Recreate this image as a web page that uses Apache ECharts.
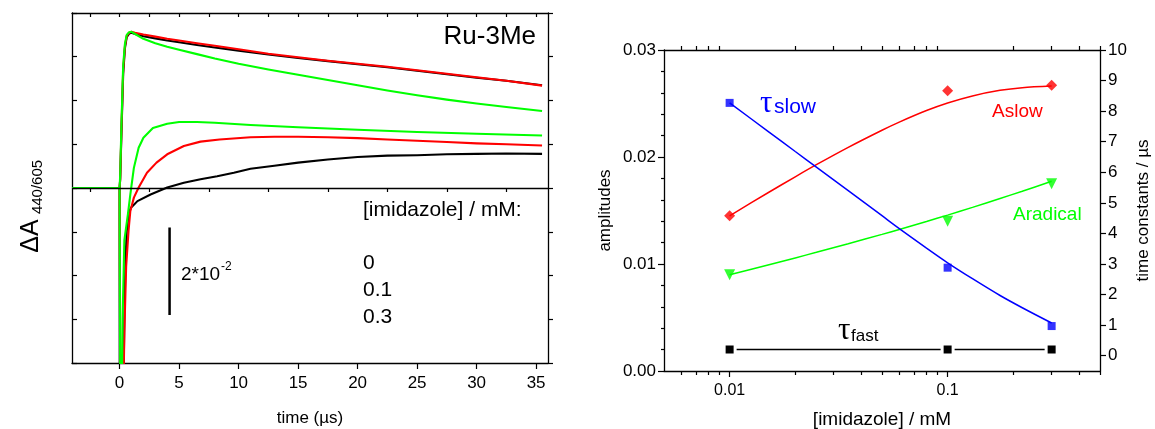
<!DOCTYPE html>
<html><head><meta charset="utf-8">
<script src="https://cdn.jsdelivr.net/npm/echarts@6/dist/echarts.min.js"></script>
<style>html,body{margin:0;padding:0;background:#fff}#c{width:1155px;height:429px}</style>
</head><body><div id="c"></div>
<script>
// ---------- Left panel: transient traces (time in µs, ΔA) ----------
const timeLabels = [0, 5, 10, 15, 20, 25, 30, 35];
const timeMinor = [-2.5, 2.5, 7.5, 12.5, 17.5, 22.5, 27.5, 32.5];
const timeTop = [-2.5, 0, 2.5, 5, 7.5, 10, 12.5, 15, 17.5, 20, 22.5, 25, 27.5, 30, 32.5, 35];

const tUpper =     [-4, -2, 0, 0.05, 0.15, 0.3, 0.45, 0.6, 0.8, 1.0, 1.3, 2, 3, 4, 5, 6.5, 8, 10, 12.5, 15, 17.5, 20, 22.5, 25, 27.5, 30, 32.5, 35.5];
const upperBlack = [0, 0, 0, 0.002, 0.012, 0.026, 0.032, 0.0345, 0.0353, 0.0355, 0.0352, 0.0347, 0.0342, 0.0337, 0.0333, 0.0327, 0.0321, 0.0314, 0.0305, 0.0297, 0.0290, 0.0283, 0.0276, 0.0268, 0.0260, 0.0252, 0.0245, 0.0235];
const upperRed =   [0, 0, 0, 0.002, 0.013, 0.027, 0.0325, 0.0348, 0.0355, 0.0357, 0.0355, 0.0351, 0.0346, 0.0341, 0.0337, 0.0331, 0.0325, 0.0317, 0.0307, 0.0299, 0.0291, 0.0284, 0.0277, 0.0269, 0.0261, 0.0253, 0.0245, 0.0234];
const upperGreen = [0, 0, 0, 0.003, 0.014, 0.028, 0.033, 0.035, 0.0356, 0.0357, 0.0352, 0.0341, 0.0331, 0.0323, 0.0316, 0.0306, 0.0296, 0.0284, 0.0271, 0.0259, 0.0247, 0.0235, 0.0223, 0.0212, 0.0202, 0.0193, 0.0185, 0.0176];

const tLowerBlack = [-4, -2, 0, 0.01, 0.3, 0.4, 0.5, 0.6, 0.75, 0.95, 1.5, 2.6, 4, 5.4, 6.8, 8.2, 9.6, 11, 13, 15, 17.5, 20, 22.5, 25, 27.5, 30, 32.5, 35.5];
const lowerBlack =  [0, 0, 0, -0.06, -0.05, -0.03, -0.016, -0.01, -0.006, -0.0045, -0.003, -0.0015, 0.0001, 0.0012, 0.0020, 0.0027, 0.0035, 0.0044, 0.0051, 0.0058, 0.0065, 0.0071, 0.0074, 0.0075, 0.0077, 0.0078, 0.0079, 0.0078];
const tLowerRed = [-4, -2, 0, 0.04, 0.1, 0.3, 0.4, 0.55, 0.75, 0.9, 1.2, 1.6, 2.3, 3.1, 4, 5.4, 6.8, 8.4, 11, 13, 15, 17.5, 20, 22.5, 25, 27.5, 30, 32.5, 35.5];
const lowerRed =  [0, 0, 0, -0.03, -0.06, -0.05, -0.033, -0.018, -0.0098, -0.0053, -0.0022, 0.0001, 0.0035, 0.0058, 0.0077, 0.0096, 0.0106, 0.0111, 0.0116, 0.0117, 0.0117, 0.0116, 0.0114, 0.0111, 0.0108, 0.0105, 0.0102, 0.0100, 0.0097];
const tLowerGreen = [-4, -2, 0, 0.03, 0.08, 0.18, 0.25, 0.4, 0.7, 0.9, 1.2, 1.6, 2.0, 2.8, 4, 5, 6.5, 8, 11, 15, 20, 25, 30, 35.5];
const lowerGreen =  [0, 0, 0, -0.03, -0.06, -0.05, -0.03, -0.012, -0.006, -0.0015, 0.0046, 0.0092, 0.0115, 0.0137, 0.0147, 0.0151, 0.0151, 0.0149, 0.0144, 0.0139, 0.0133, 0.0128, 0.0124, 0.0120];

const scaleBarT = [4.2, 4.2];
const scaleBarY = [-0.009, -0.029];
const concLegend = ['0', '0.1', '0.3'];

// ---------- Right panel: amplitudes and time constants vs [imidazole] ----------
const logMajor = [0.01, 0.1];
const logMinor = [0.006, 0.007, 0.008, 0.009, 0.02, 0.03, 0.04, 0.05, 0.06, 0.07, 0.08, 0.09, 0.2, 0.3, 0.4, 0.5];
const rightTicks = [0, 1, 2, 3, 4, 5, 6, 7, 8, 9, 10];

const conc = [0.01, 0.1, 0.3];
const aSlow = [0.0145, 0.0262, 0.0267];
const aRadical = [0.0090, 0.0140, 0.0175];
const tauSlow = [8.27, 2.88, 0.97];
const tauFast = [0.2, 0.2, 0.2];

const fitConc =     [0.01, 0.015, 0.02, 0.025, 0.035, 0.05, 0.06, 0.08, 0.1, 0.13, 0.174, 0.22, 0.3];
const aSlowFit =    [0.0145, 0.01666, 0.01815, 0.01928, 0.0209, 0.0225, 0.02326, 0.02434, 0.02505, 0.02571, 0.02623, 0.02648, 0.02663];
const aRadicalFit = [0.0090, 0.00991, 0.01057, 0.01109, 0.01189, 0.01277, 0.01323, 0.01398, 0.01457, 0.01529, 0.01612, 0.0168, 0.01773];
const tauSlowFit =  [8.27, 7.34, 6.68, 6.17, 5.40, 4.58, 4.16, 3.52, 3.04, 2.52, 1.97, 1.57, 1.07];

const FONT = '"Liberation Sans", Arial, sans-serif';
const pairs = (xs, ys) => xs.map((x, i) => [x, ys[i]]);
const BLK = '#000000', RED = '#ff0000', GRN = '#00ff00', BLU = '#0000ff';

const chart = echarts.init(document.getElementById('c'), null, {renderer: 'canvas'});

function trace(xs, ys, color) {
  return {type: 'line', xAxisIndex: 0, yAxisIndex: 0, data: pairs(xs, ys), showSymbol: false,
    symbol: 'none', lineStyle: {color: color, width: 2.1, join: 'round'}, itemStyle: {color: color},
    clip: true, silent: true, smooth: false};
}
function fit(xs, ys, color, yIdx) {
  return {type: 'line', xAxisIndex: 3, yAxisIndex: yIdx, data: pairs(xs, ys), showSymbol: false, symbol: 'none',
    smooth: 0.3, lineStyle: {color: color, width: 1.5}, silent: true};
}

const axLine = {show: true, onZero: false, lineStyle: {color: '#000', width: 1.3}};
const noLabel = {show: false};

const option = {
  animation: false,
  backgroundColor: '#fff',
  textStyle: {fontFamily: FONT, color: '#000'},
  grid: [
    {left: 72, top: 13, width: 476, height: 350, outerBoundsMode: 'none'},
    {left: 664, top: 50, width: 436, height: 321, outerBoundsMode: 'none'}
  ],
  xAxis: [
    {gridIndex: 0, type: 'value', min: -4, max: 36, position: 'bottom', axisLine: axLine,
      axisTick: {show: true, length: 6, lineStyle: {color: '#000', width: 1.2}, customValues: timeLabels},
      axisLabel: {customValues: timeLabels, fontSize: 17, color: '#000', fontFamily: FONT, margin: 12},
      splitLine: {show: false},
      name: 'time (µs)', nameLocation: 'middle', nameGap: 47,
      nameTextStyle: {fontSize: 17, color: '#000', fontFamily: FONT}},
    {gridIndex: 0, type: 'value', min: -4, max: 36, position: 'bottom', axisLine: {show: false},
      axisTick: {show: true, length: 4, lineStyle: {color: '#000', width: 1.2}, customValues: timeMinor},
      axisLabel: noLabel, splitLine: {show: false}},
    {gridIndex: 0, type: 'value', min: -4, max: 36, position: 'top', axisLine: axLine,
      axisTick: {show: true, inside: true, length: 4, lineStyle: {color: '#000', width: 1.2}, customValues: timeTop},
      axisLabel: noLabel, splitLine: {show: false}},
    {gridIndex: 1, type: 'log', logBase: 10, min: 0.005, max: 0.5, position: 'bottom', axisLine: axLine,
      axisTick: {show: true, length: 6, lineStyle: {color: '#000', width: 1.2}, customValues: logMajor},
      axisLabel: {customValues: logMajor, fontSize: 16, color: '#000', fontFamily: FONT, margin: 12,
        formatter: v => String(Number(v.toPrecision(3)))},
      splitLine: {show: false}, minorTick: {show: false},
      name: '[imidazole] / mM', nameLocation: 'middle', nameGap: 39,
      nameTextStyle: {fontSize: 19, color: '#000', fontFamily: FONT}},
    {gridIndex: 1, type: 'log', logBase: 10, min: 0.005, max: 0.5, position: 'bottom', axisLine: {show: false},
      axisTick: {show: true, length: 4, lineStyle: {color: '#000', width: 1.2}, customValues: logMinor},
      axisLabel: noLabel, splitLine: {show: false}},
    {gridIndex: 1, type: 'log', logBase: 10, min: 0.005, max: 0.5, position: 'top', axisLine: axLine,
      axisTick: {show: true, length: 4, lineStyle: {color: '#000', width: 1.2}, customValues: logMinor},
      axisLabel: noLabel, splitLine: {show: false}},
    {gridIndex: 1, type: 'log', logBase: 10, min: 0.005, max: 0.5, position: 'top', axisLine: {show: false},
      axisTick: {show: true, length: 6, lineStyle: {color: '#000', width: 1.2}, customValues: logMajor},
      axisLabel: noLabel, splitLine: {show: false}}
  ],
  yAxis: [
    {gridIndex: 0, type: 'value', min: -0.04, max: 0.04, interval: 0.01, position: 'left', axisLine: axLine,
      axisTick: {show: true, inside: true, length: 5, lineStyle: {color: '#000', width: 1.2}},
      axisLabel: noLabel, splitLine: {show: false}},
    {gridIndex: 0, type: 'value', min: -0.04, max: 0.04, interval: 0.01, position: 'right', axisLine: axLine,
      axisTick: {show: true, length: 5, lineStyle: {color: '#000', width: 1.2}},
      axisLabel: noLabel, splitLine: {show: false}},
    {gridIndex: 1, type: 'value', min: 0, max: 0.03, interval: 0.01, position: 'left', axisLine: axLine,
      axisTick: {show: true, length: 6, lineStyle: {color: '#000', width: 1.2}},
      minorTick: {show: true, splitNumber: 5, length: 3, lineStyle: {color: '#000', width: 1.2}},
      axisLabel: {fontSize: 17, color: '#000', fontFamily: FONT, margin: 8, formatter: v => v.toFixed(2)},
      splitLine: {show: false},
      name: 'amplitudes', nameLocation: 'middle', nameGap: 50, nameRotate: 90,
      nameTextStyle: {fontSize: 17, color: '#000', fontFamily: FONT}},
    {gridIndex: 1, type: 'value', min: -0.5, max: 10, position: 'right', axisLine: axLine,
      axisTick: {show: true, length: 6, lineStyle: {color: '#000', width: 1.2}, customValues: rightTicks},
      axisLabel: {customValues: rightTicks, fontSize: 17, color: '#000', fontFamily: FONT, margin: 8},
      splitLine: {show: false},
      name: 'time constants / µs', nameLocation: 'middle', nameGap: 35, nameRotate: 90,
      nameTextStyle: {fontSize: 17, color: '#000', fontFamily: FONT}}
  ],
  series: [
    Object.assign(trace(tLowerBlack, lowerBlack, BLK), {
      markLine: {silent: true, symbol: 'none', label: {show: false},
        lineStyle: {color: '#000', width: 1.3, type: 'solid'}, data: [{yAxis: 0}]}}),
    trace(tLowerRed, lowerRed, RED),
    trace(tLowerGreen, lowerGreen, GRN),
    trace(tUpper, upperBlack, BLK),
    trace(tUpper, upperRed, RED),
    trace(tUpper, upperGreen, GRN),
    {type: 'line', xAxisIndex: 0, yAxisIndex: 0, data: pairs(scaleBarT, scaleBarY), showSymbol: false,
      symbol: 'none', lineStyle: {color: '#000', width: 2.5}, silent: true},

    fit(fitConc, aSlowFit, RED, 2),
    {type: 'scatter', xAxisIndex: 3, yAxisIndex: 2, data: pairs(conc, aSlow), symbol: 'diamond', symbolSize: 11,
      itemStyle: {color: RED}, silent: true},
    fit(fitConc, aRadicalFit, GRN, 2),
    {type: 'scatter', xAxisIndex: 3, yAxisIndex: 2, data: pairs(conc, aRadical), symbol: 'triangle', symbolRotate: 180,
      symbolSize: 11, itemStyle: {color: GRN}, silent: true},
    fit(fitConc, tauSlowFit, BLU, 3),
    {type: 'scatter', xAxisIndex: 3, yAxisIndex: 3, data: pairs(conc, tauSlow), symbol: 'rect', symbolSize: 8,
      itemStyle: {color: BLU}, silent: true},
    {type: 'line', xAxisIndex: 3, yAxisIndex: 3, data: pairs(conc, tauFast), symbol: 'rect', symbolSize: 11,
      showSymbol: true, lineStyle: {color: BLK, width: 1.5},
      itemStyle: {color: BLK, borderColor: '#fff', borderWidth: 3}, silent: true}
  ],
  graphic: [
    {type: 'text', x: 536, y: 37, style: {text: 'Ru-3Me', font: '26px ' + FONT, fill: '#000', textAlign: 'right', textVerticalAlign: 'middle'}},
    {type: 'text', x: 363, y: 210, style: {text: '[imidazole] / mM:', font: '21px ' + FONT, fill: '#000', textAlign: 'left', textVerticalAlign: 'middle'}},
    {type: 'text', x: 363, y: 263, style: {text: concLegend[0], font: '21px ' + FONT, fill: '#000', textAlign: 'left', textVerticalAlign: 'middle'}},
    {type: 'text', x: 363, y: 290, style: {text: concLegend[1], font: '21px ' + FONT, fill: '#000', textAlign: 'left', textVerticalAlign: 'middle'}},
    {type: 'text', x: 363, y: 317, style: {text: concLegend[2], font: '21px ' + FONT, fill: '#000', textAlign: 'left', textVerticalAlign: 'middle'}},
    {type: 'text', x: 181, y: 275, style: {text: '2*10', font: '19px ' + FONT, fill: '#000', textAlign: 'left', textVerticalAlign: 'middle'}},
    {type: 'text', x: 221, y: 267, style: {text: '-2', font: '12px ' + FONT, fill: '#000', textAlign: 'left', textVerticalAlign: 'middle'}},
    {type: 'text', x: 31, y: 236, rotation: Math.PI / 2, style: {text: 'ΔA', font: '25px ' + FONT, fill: '#000', textAlign: 'center', textVerticalAlign: 'middle'}},
    {type: 'text', x: 38, y: 187, rotation: Math.PI / 2, style: {text: '440/605', font: '15px ' + FONT, fill: '#000', textAlign: 'center', textVerticalAlign: 'middle'}},
    {type: 'text', x: 760, y: 104, style: {text: 'τ', font: '31px "Liberation Serif", serif', fill: BLU, textAlign: 'left', textVerticalAlign: 'middle'}},
    {type: 'text', x: 774, y: 107, style: {text: 'slow', font: '21px ' + FONT, fill: BLU, textAlign: 'left', textVerticalAlign: 'middle'}},
    {type: 'text', x: 992, y: 112, style: {text: 'Aslow', font: '19px ' + FONT, fill: RED, textAlign: 'left', textVerticalAlign: 'middle'}},
    {type: 'text', x: 1013, y: 215, style: {text: 'Aradical', font: '19px ' + FONT, fill: GRN, textAlign: 'left', textVerticalAlign: 'middle'}},
    {type: 'text', x: 838, y: 331, style: {text: 'τ', font: '31px "Liberation Serif", serif', fill: BLK, textAlign: 'left', textVerticalAlign: 'middle'}},
    {type: 'text', x: 851, y: 336, style: {text: 'fast', font: '17px ' + FONT, fill: BLK, textAlign: 'left', textVerticalAlign: 'middle'}}
  ]
};
chart.setOption(option);
</script>
</body></html>
